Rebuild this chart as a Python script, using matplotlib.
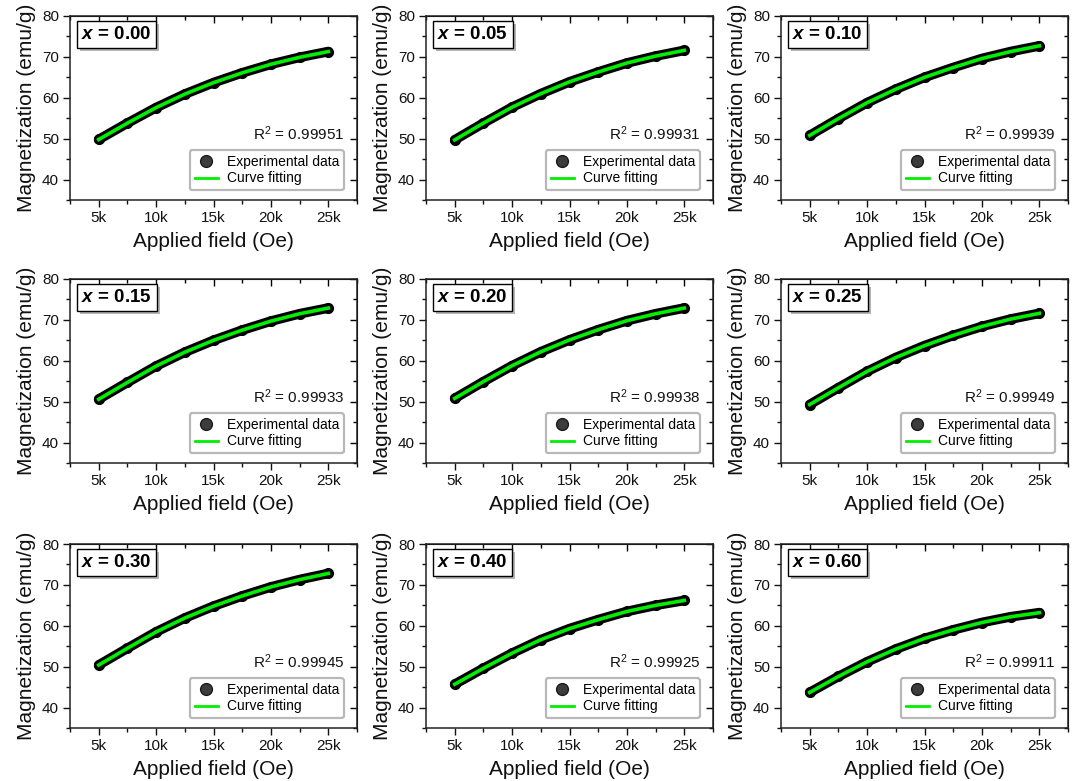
import matplotlib
matplotlib.use("Agg")
import matplotlib.pyplot as plt
from matplotlib.lines import Line2D
from matplotlib import patheffects
from matplotlib.ticker import MultipleLocator, FuncFormatter

plt.rcParams["font.family"] = ["Liberation Sans", "DejaVu Sans"]
plt.rcParams["mathtext.fontset"] = "custom"
plt.rcParams["mathtext.rm"] = "Liberation Sans"
plt.rcParams["mathtext.it"] = "Liberation Sans:italic:bold"

# applied field (Oe), read every 2.5 kOe
field_oe = [5000, 7500, 10000, 12500, 15000, 17500, 20000, 22500, 25000]

# magnetization (emu/g)
m_000 = [49.8, 53.8, 57.6, 60.9, 63.7, 66.1, 68.2, 69.9, 71.3]
m_005 = [49.7, 53.8, 57.7, 61.0, 63.9, 66.3, 68.5, 70.2, 71.6]
m_010 = [50.8, 54.9, 58.8, 62.1, 65.0, 67.4, 69.6, 71.3, 72.7]
m_015 = [50.6, 54.7, 58.7, 62.1, 65.0, 67.5, 69.7, 71.5, 72.9]
m_020 = [50.8, 54.9, 58.8, 62.2, 65.1, 67.6, 69.8, 71.5, 72.9]
m_025 = [49.3, 53.4, 57.4, 60.8, 63.7, 66.2, 68.4, 70.2, 71.6]
m_030 = [50.4, 54.5, 58.5, 61.9, 64.8, 67.3, 69.5, 71.3, 72.8]
m_040 = [45.7, 49.6, 53.3, 56.6, 59.3, 61.5, 63.5, 65.0, 66.2]
m_060 = [43.7, 47.6, 51.2, 54.3, 56.9, 59.0, 60.8, 62.2, 63.2]

compositions = ["0.00", "0.05", "0.10", "0.15", "0.20", "0.25", "0.30", "0.40", "0.60"]
r_squared = ["0.99951", "0.99931", "0.99939", "0.99933", "0.99938",
             "0.99949", "0.99945", "0.99925", "0.99911"]
magnetization = [m_000, m_005, m_010, m_015, m_020, m_025, m_030, m_040, m_060]

W, H = 1077, 781
fig = plt.figure(figsize=(W / 100, H / 100), dpi=100)

col_left = [70, 426, 781]
row_bottom = [200, 463, 728]
ax_w, ax_h = 287, 184

k_fmt = FuncFormatter(lambda v, p: f"{int(round(v / 1000))}k")

for i, (comp, r2, m) in enumerate(zip(compositions, r_squared, magnetization)):
    r, c = divmod(i, 3)
    ax = fig.add_axes([col_left[c] / W, 1 - row_bottom[r] / H, ax_w / W, ax_h / H])

    # experimental points (dense, so they read as a thick tube) and fit
    ax.plot(field_oe, m, color="black", lw=7, marker="o", ms=7,
            mfc="black", mec="black", solid_capstyle="round",
            solid_joinstyle="round", zorder=2)
    ax.plot(field_oe, m, color="#00ee00", lw=2.6, solid_joinstyle="round", zorder=3)

    ax.set_xlim(2500, 27500)
    ax.set_ylim(35, 80)
    ax.xaxis.set_major_locator(MultipleLocator(5000))
    ax.xaxis.set_minor_locator(MultipleLocator(2500))
    ax.yaxis.set_major_locator(MultipleLocator(10))
    ax.yaxis.set_minor_locator(MultipleLocator(5))
    ax.xaxis.set_major_formatter(k_fmt)
    ax.yaxis.set_major_formatter(FuncFormatter(lambda v, p: "" if v < 40 else f"{int(v)}"))
    ax.tick_params(which="both", direction="out", width=1, labelsize=11,
                   colors="#111111", pad=3)
    ax.tick_params(which="major", length=5)
    ax.tick_params(which="minor", length=3)
    for s in ax.spines.values():
        s.set_linewidth(1.1)
        s.set_color("#222222")

    # mirrored ticks pointing inward on top and right
    top = ax.secondary_xaxis("top")
    top.xaxis.set_major_locator(MultipleLocator(5000))
    top.xaxis.set_minor_locator(MultipleLocator(2500))
    top.tick_params(which="both", direction="in", labeltop=False, width=1)
    top.tick_params(which="major", length=5)
    top.tick_params(which="minor", length=3)
    right = ax.secondary_yaxis("right")
    right.yaxis.set_major_locator(MultipleLocator(10))
    right.yaxis.set_minor_locator(MultipleLocator(5))
    right.tick_params(which="both", direction="in", labelright=False, width=1)
    right.tick_params(which="major", length=5)
    right.tick_params(which="minor", length=3)

    ax.set_xlabel("Applied field (Oe)", fontsize=15, labelpad=5, color="#111111")
    ax.set_ylabel("Magnetization (emu/g)", fontsize=15, labelpad=4, color="#111111")

    # composition tag with drop shadow on its box
    tag = ax.text(0.04, 0.945, rf"$x$ = {comp}", transform=ax.transAxes,
                  fontsize=13.5, fontweight="bold", color="black",
                  va="top", ha="left", zorder=5,
                  bbox=dict(boxstyle="square,pad=0.25", fc="white", ec="black", lw=1))
    tag.get_bbox_patch().set_path_effects([
        patheffects.SimplePatchShadow(offset=(2, -2), shadow_rgbFace="#b4b4b4", alpha=1),
        patheffects.Normal(),
    ])

    ax.text(0.955, 0.36, rf"R$^2$ = {r2}", transform=ax.transAxes, fontsize=11,
            ha="right", va="center", color="#111111")

    handles = [
        Line2D([], [], ls="none", marker="o", ms=8.5, mfc="#3c3c3c", mec="#1a1a1a"),
        Line2D([], [], color="#00ee00", lw=2),
    ]
    leg = ax.legend(handles, ["Experimental data", "Curve fitting"], loc="lower right",
                    bbox_to_anchor=(0.978, 0.015), fontsize=10, frameon=True,
                    fancybox=True, handlelength=1.7, handletextpad=0.6,
                    labelspacing=0.15, borderpad=0.35)
    frame = leg.get_frame()
    frame.set_edgecolor("#b8b8b8")
    frame.set_linewidth(1.6)
    frame.set_alpha(1)

fig.savefig("out.png", dpi=100)
